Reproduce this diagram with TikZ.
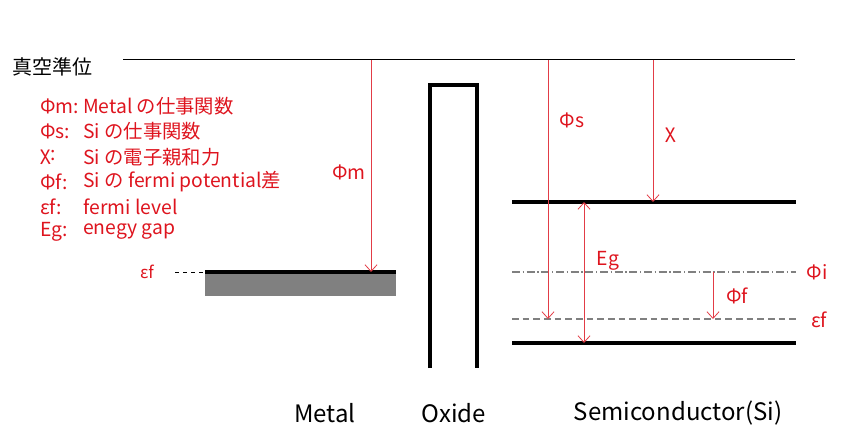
\documentclass[tikz,border=0pt]{standalone}
\usepackage{fontspec}
\setmainfont{Noto Sans CJK JP}
\usetikzlibrary{arrows.meta}
\definecolor{lblred}{RGB}{222,20,30}
\definecolor{arwred}{RGB}{226,60,70}
\definecolor{lvlgray}{RGB}{128,128,128}

\begin{document}
\begin{tikzpicture}[x=0.75pt,y=-0.75pt,
	lbl/.style={text=lblred,font=\fontsize{14.5}{17}\selectfont,inner sep=0pt},
	key/.style={lbl,anchor=west},
	region/.style={font=\fontsize{18}{21}\selectfont,inner sep=0pt},
	band/.style={line width=2.4pt},
	arw/.style={draw=arwred,line width=0.6pt,-{Straight Barb[length=5pt,width=9pt]}},
	darw/.style={draw=arwred,line width=0.6pt,{Straight Barb[length=5pt,width=9pt]}-{Straight Barb[length=5pt,width=9pt]}}]
	\useasboundingbox (0,0) rectangle (841,441);
	\coordinate (vacL) at (123,60);
	\coordinate (vacR) at (795,60);
	\draw[line width=0.75pt] (vacL) -- (vacR);
	\node[anchor=west,inner sep=0pt,font=\fontsize{15}{18}\selectfont] (vac) at (12,67) {真空準位};
	\node[key] (kpm) at (40,106) {Φm:};
	\node[key] (kps) at (40,131) {Φs:};
	\node[key] (kchi) at (40,157) {χ:};
	\node[key] (kpf) at (40,182) {Φf:};
	\node[key] (kef) at (40,207) {εf:};
	\node[key] (keg) at (40,232) {Eg:};
	\node[key] (tpm) at (83,106) {Metal の仕事関数};
	\node[key] (tps) at (83,131) {Si の仕事関数};
	\node[key] (tchi) at (83,157) {Si の電子親和力};
	\node[key] (tpf) at (83,182) {Si の fermi potential差};
	\node[key] (tef) at (83,207) {fermi level};
	\node[key] (teg) at (83,232) {enegy gap};
	% metal
	\fill[lvlgray] (205,272) rectangle (396,296);
	\coordinate (mfL) at (205,272);
	\coordinate (mfR) at (396,272);
	\coordinate (mfD) at (175,272);
	\draw[band] (mfL) -- (mfR);
	\draw[dashed,line width=0.7pt] (mfD) -- (mfL);
	\node[lbl,font=\fontsize{12.5}{14}\selectfont] (mef) at (147,272) {εf};
	\coordinate (pmT) at (371,60);
	\coordinate (pmB) at (371,272);
	\draw[arw] (pmT) -- (pmB);
	\node[lbl] (pm) at (349,172) {Φm};
	% oxide
	\draw[band,line join=miter] (430,368) -- (430,85) -- (477,85) -- (477,368);
	% semiconductor
	\coordinate (ecL) at (512,202);
	\coordinate (ecR) at (796,202);
	\coordinate (evL) at (512,343);
	\coordinate (evR) at (796,343);
	\coordinate (eiL) at (512,272);
	\coordinate (eiR) at (796,272);
	\coordinate (sfL) at (512,319);
	\coordinate (sfR) at (796,319);
	\draw[band] (ecL) -- (ecR);
	\draw[band] (evL) -- (evR);
	\draw[lvlgray,line width=0.8pt,dash pattern=on 6pt off 2pt on 1pt off 2pt] (eiL) -- (eiR);
	\draw[lvlgray,line width=1pt,dash pattern=on 5pt off 3pt] (sfL) -- (sfR);
	\node[lbl] (pi) at (817,272) {Φi};
	\node[lbl] (sef) at (819,320) {εf};
	\coordinate (psT) at (548,60);
	\coordinate (psB) at (548,319);
	\draw[arw] (psT) -- (psB);
	\node[lbl] (ps) at (572,120) {Φs};
	\coordinate (chT) at (653,60);
	\coordinate (chB) at (653,202);
	\draw[arw] (chT) -- (chB);
	\node[lbl] (chi) at (671,135) {χ};
	\coordinate (egT) at (584,202);
	\coordinate (egB) at (584,343);
	\draw[darw] (egT) -- (egB);
	\node[lbl] (eg) at (608,261) {Eg};
	\coordinate (pfT) at (713,272);
	\coordinate (pfB) at (713,319);
	\draw[arw] (pfT) -- (pfB);
	\node[lbl] (pf) at (737,296) {Φf};
	% names
	\node[region] (metal) at (325,413) {Metal};
	\node[region] (oxide) at (454,413) {Oxide};
	\node[region] (semi) at (678,413) {Semiconductor(Si)};
\end{tikzpicture}
\end{document}
